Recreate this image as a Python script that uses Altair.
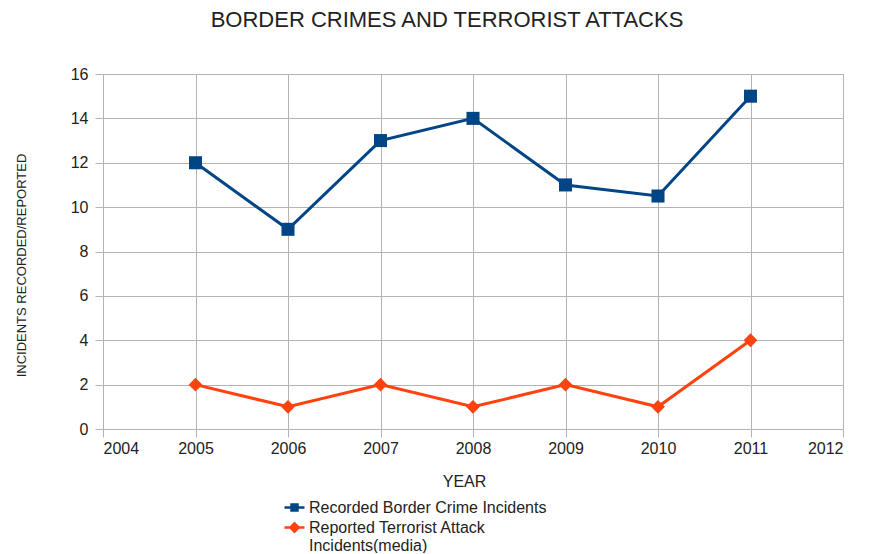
import altair as alt
import pandas as pd

years = [2005, 2006, 2007, 2008, 2009, 2010, 2011]
border_crime = [12, 9, 13, 14, 11, 10.5, 15]
terrorist = [2, 1, 2, 1, 2, 1, 4]
series_names = ["Recorded Border Crime Incidents", "Reported Terrorist Attack Incidents(media)"]
colors = ["#004586", "#ff420e"]
x_ticks = list(range(2004, 2013))
y_ticks = list(range(0, 17, 2))

df = pd.DataFrame({
    "year": years * 2,
    "value": border_crime + terrorist,
    "series": [series_names[0]] * len(years) + [series_names[1]] * len(years),
})

FONT = "Liberation Sans"
TXT = "#222222"
GRID = "#b3b3b3"

x = alt.X("year:Q",
          scale=alt.Scale(domain=[2004, 2012], nice=False, zero=False),
          axis=alt.Axis(values=x_ticks, format="d", title="YEAR", grid=True,
                        gridColor=GRID, domain=False, tickColor=GRID, tickSize=8,
                        labelFontSize=16, labelColor=TXT, labelPadding=3, labelFont=FONT,
                        titleFontSize=16, titleFont=FONT, titleFontWeight="normal", titleColor=TXT,
                        titleX=361, titleY=57, titleBaseline="alphabetic"))
y = alt.Y("value:Q",
          scale=alt.Scale(domain=[0, 16], nice=False),
          axis=alt.Axis(values=y_ticks, title="INCIDENTS RECORDED/REPORTED", grid=True,
                        gridColor=GRID, domain=False, tickColor=GRID, tickSize=8,
                        labelFontSize=16, labelColor=TXT, labelPadding=7, labelFont=FONT,
                        titleFontSize=13, titleFont=FONT, titleFontWeight="normal", titleColor=TXT,
                        titleX=-78, titleY=191, titleBaseline="alphabetic", titleAngle=270))

leg = alt.Legend(title=None, orient="none", legendX=180, legendY=422, padding=0,
                 labelFont=FONT, labelFontSize=16, labelColor=TXT, labelLimit=500,
                 labelOffset=3, rowPadding=0, symbolOpacity=1, symbolSize=400,
                 symbolStrokeWidth=2.5,
                 labelExpr="datum.label == 'Reported Terrorist Attack Incidents(media)' ? "
                           "['Reported Terrorist Attack', 'Incidents(media)'] : datum.label")

cscale = alt.Scale(domain=series_names, range=colors)
color = alt.Color("series:N", scale=cscale, legend=leg)
stroke = alt.Stroke("series:N", scale=cscale, legend=leg)
path_sq = "M-1,0H1M-0.3,-0.3H0.3V0.3H-0.3Z"
path_dm = "M-1,0H1M0,-0.42L0.42,0L0,0.42L-0.42,0Z"
shape = alt.Shape("series:N", scale=alt.Scale(domain=series_names, range=[path_sq, path_dm]), legend=leg)

base = alt.Chart(df)
lines = base.mark_line(strokeWidth=3).encode(x=x, y=y, color=color)
squares = base.transform_filter(alt.datum.series == series_names[0]).mark_point(
    shape="square", filled=True, size=170, opacity=1).encode(x=x, y=y, color=color)
diamonds = base.transform_filter(alt.datum.series == series_names[1]).mark_point(
    shape="diamond", filled=True, size=190, opacity=1).encode(x=x, y=y, color=color)
legend_layer = base.mark_point(filled=True, opacity=0).encode(
    x=x, y=y, color=color, stroke=stroke, shape=shape)

chart = alt.layer(lines, squares, diamonds, legend_layer).properties(
    width=740, height=355,
    autosize=alt.AutoSizeParams(type="none"),
    padding={"left": 95, "top": 66, "right": 16, "bottom": 124},
    title=alt.TitleParams("BORDER CRIMES AND TERRORIST ATTACKS", font=FONT, fontSize=22,
                          fontWeight="normal", color=TXT, anchor="middle", dx=-26, offset=34),
).configure_view(stroke=None).configure(font=FONT)

chart.save("out.html", embed_options={"renderer": "svg", "actions": False})
